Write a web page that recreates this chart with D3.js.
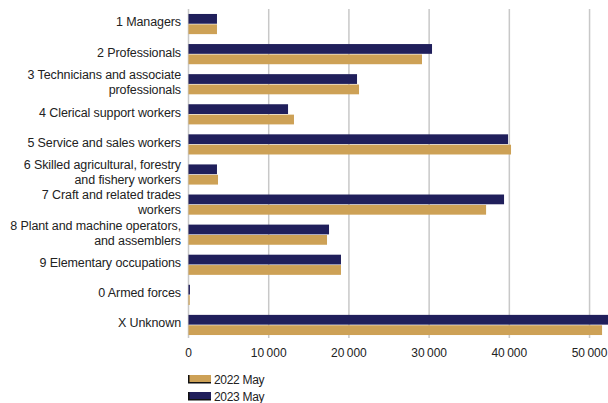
<!DOCTYPE html>
<html>
<head>
<meta charset="utf-8">
<script src="https://cdn.jsdelivr.net/npm/d3@7"></script>
<style>
  body { margin: 0; background: #fff; }
  text { font-family: "Liberation Sans", Arial, sans-serif; fill: #222; }
</style>
</head>
<body>
<div id="chart"></div>
<script>
const width = 608, height = 403,
    margin = ({ top: 9, right: 0, bottom: 63, left: 188.5 }); // dimensions

// categories (top to bottom), label lines split where the reference wraps
const categories = [
  ["1 Managers"],
  ["2 Professionals"],
  ["3 Technicians and associate", "professionals"],
  ["4 Clerical support workers"],
  ["5 Service and sales workers"],
  ["6 Skilled agricultural, forestry", "and fishery workers"],
  ["7 Craft and related trades", "workers"],
  ["8 Plant and machine operators,", "and assemblers"],
  ["9 Elementary occupations"],
  ["0 Armed forces"],
  ["X Unknown"]
];
const may2023 = [3550, 30360, 21010, 12410, 39840, 3550, 39340, 17520, 19010, 180, 52600];
const may2022 = [3550, 29110, 21260, 13150, 40210, 3680, 37100, 17270, 19010, 150, 51560];
const xTicks = [0, 10000, 20000, 30000, 40000, 50000];
const seriesNames = ["2022 May", "2023 May"];
const colors = { "2022 May": "#cda156", "2023 May": "#201f5b" };

const svg = d3.select("#chart")
    .append("svg")
    .attr("width", width)
    .attr("height", height);

const plotBottom = 340;

let x = d3.scaleLinear()
    .domain([0, 52300])
    .range([margin.left, width - margin.right]);

let y = d3.scaleBand()
    .domain(d3.range(categories.length))
    .range([margin.top, plotBottom])
    .paddingInner(0.33)
    .paddingOuter(0.165);

let sub = d3.scaleBand() // 2023 on top, 2022 below
    .domain(["2023 May", "2022 May"])
    .range([0, y.bandwidth()])
    .paddingInner(0.06);

// gridlines
svg.append("g")
  .selectAll("line")
  .data(xTicks)
  .join("line")
    .attr("x1", d => x(d)).attr("x2", d => x(d))
    .attr("y1", margin.top).attr("y2", plotBottom - 2)
    .attr("stroke", "#c8c8c8")
    .attr("stroke-width", 1.5);

// tick labels
svg.append("g")
  .selectAll("text")
  .data(xTicks)
  .join("text")
    .attr("x", d => x(d))
    .attr("y", 353)
    .attr("dy", "0.35em")
    .attr("text-anchor", "middle")
    .attr("font-size", 12)
    .attr("letter-spacing", "-0.3")
    .text(d => d3.format(",")(d).replace(/,/g, "\u202f"));

const clip = svg.append("clipPath").attr("id", "clip")
  .append("rect").attr("x", 0).attr("y", 0).attr("width", width).attr("height", height);

const bars = svg.append("g").attr("clip-path", "url(#clip)");
[["2023 May", may2023], ["2022 May", may2022]].forEach(([name, vals]) => {
  bars.append("g")
    .selectAll("rect")
    .data(vals)
    .join("rect")
      .attr("x", x(0))
      .attr("y", (d, i) => y(i) + sub(name))
      .attr("width", d => Math.max(1, x(d) - x(0)))
      .attr("height", sub.bandwidth())
      .attr("fill", colors[name]);
});

// category labels
const lab = svg.append("g")
  .selectAll("text")
  .data(categories)
  .join("text")
    .attr("text-anchor", "end")
    .attr("font-size", 12.5)
    .attr("letter-spacing", "-0.1")
    .attr("y", (d, i) => y(i) + y.bandwidth() / 2 - 2 - (d.length - 1) * 7.5);
lab.selectAll("tspan")
  .data(d => d)
  .join("tspan")
    .attr("x", 181)
    .attr("dy", (d, j) => j === 0 ? "0.35em" : 15)
    .text(d => d);

// legend
const legend = svg.append("g");
seriesNames.forEach((name, i) => {
  const ly = 375 + i * 17;
  legend.append("rect")
    .attr("x", 188).attr("y", ly)
    .attr("width", 23).attr("height", 8.5)
    .attr("fill", "#111");
  legend.append("rect")
    .attr("x", 189.5).attr("y", ly)
    .attr("width", 21.5).attr("height", 7)
    .attr("fill", colors[name]);
  legend.append("text")
    .attr("x", 214).attr("y", ly + 4.5)
    .attr("dy", "0.35em")
    .attr("font-size", 12)
    .attr("letter-spacing", "-0.3")
    .text(name);
});
</script>
</body>
</html>
